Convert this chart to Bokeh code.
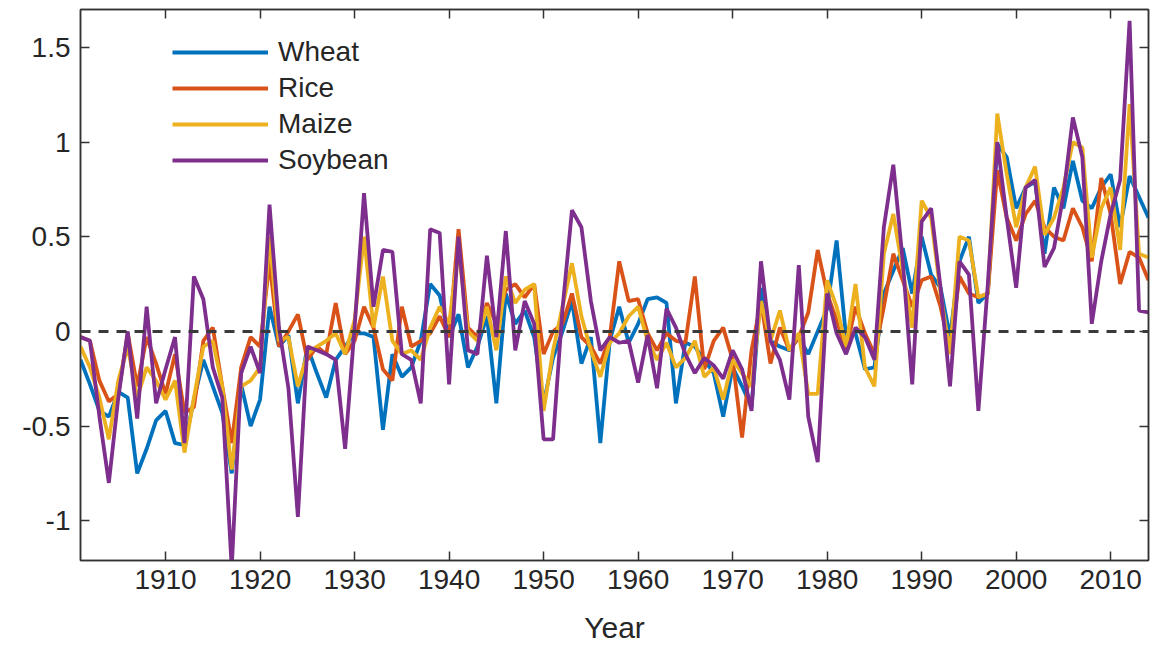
from bokeh.plotting import figure
from bokeh.models import Range1d, FixedTicker, LinearAxis, Span, Legend, LegendItem
from bokeh.embed import file_html
from bokeh.resources import INLINE

years = list(range(1901, 2015))

wheat = [
    -0.15, -0.28, -0.42, -0.45, -0.32, -0.35, -0.75, -0.62, -0.47, -0.42,
    -0.59, -0.60, -0.36, -0.15, -0.29, -0.43, -0.75, -0.28, -0.50, -0.36,
    0.13, -0.08, -0.02, -0.38, -0.08, -0.22, -0.35, -0.15, -0.08, -0.01,
    -0.01, -0.03, -0.52, -0.12, -0.24, -0.19, -0.05, 0.25, 0.19, -0.03,
    0.09, -0.19, -0.08, 0.08, -0.38, 0.20, 0.04, 0.11, -0.03, -0.38,
    -0.14, 0.00, 0.16, -0.17, -0.03, -0.59, -0.05, 0.13, -0.06, 0.04,
    0.17, 0.18, 0.15, -0.38, -0.06, -0.08, -0.15, -0.22, -0.45, -0.19,
    -0.29, -0.40, 0.23, -0.05, -0.08, -0.10, -0.03, -0.12, 0.00, 0.12,
    0.48, -0.03, -0.01, -0.20, -0.19, 0.20, 0.32, 0.44, 0.20, 0.50,
    0.30, 0.23, -0.03, 0.37, 0.50, 0.15, 0.20, 0.99, 0.92, 0.65,
    0.76, 0.79, 0.41, 0.76, 0.65, 0.90, 0.69, 0.65, 0.76, 0.83,
    0.55, 0.82, 0.71, 0.60,
]

rice = [
    -0.03, -0.05, -0.26, -0.37, -0.33, -0.01, -0.29, -0.03, -0.17, -0.33,
    -0.12, -0.43, -0.40, -0.05, 0.02, -0.29, -0.59, -0.19, -0.03, -0.08,
    0.37, -0.08, 0.00, 0.09, -0.15, -0.08, -0.12, 0.15, -0.12, -0.05,
    0.13, 0.02, -0.20, -0.26, 0.13, -0.08, -0.05, -0.01, 0.08, -0.03,
    0.54, 0.02, -0.03, 0.15, 0.04, 0.22, 0.25, 0.18, 0.25, -0.12,
    0.00, 0.04, 0.20, -0.03, -0.08, -0.17, -0.03, 0.37, 0.16, 0.17,
    -0.01, -0.10, -0.01, -0.05, -0.06, 0.29, -0.20, -0.05, 0.02, -0.15,
    -0.56, -0.10, 0.16, -0.17, 0.02, -0.10, -0.03, 0.10, 0.43, 0.20,
    0.06, -0.10, 0.13, -0.01, -0.12, 0.13, 0.41, 0.27, 0.13, 0.27,
    0.29, 0.13, -0.10, 0.29, 0.20, 0.18, 0.20, 0.85, 0.60, 0.48,
    0.62, 0.69, 0.55, 0.50, 0.48, 0.65, 0.55, 0.37, 0.81, 0.62,
    0.25, 0.42, 0.39, 0.27,
]

maize = [
    -0.08, -0.19, -0.35, -0.57, -0.26, -0.08, -0.35, -0.19, -0.26, -0.36,
    -0.26, -0.64, -0.35, -0.08, -0.05, -0.29, -0.73, -0.29, -0.26, -0.19,
    0.50, -0.05, -0.03, -0.29, -0.12, -0.08, -0.05, -0.01, -0.12, 0.06,
    0.50, 0.02, 0.29, -0.05, -0.12, -0.10, -0.15, 0.02, 0.13, 0.04,
    0.43, 0.00, -0.05, 0.13, -0.10, 0.29, 0.15, 0.22, 0.25, -0.42,
    -0.10, 0.13, 0.36, 0.08, -0.10, -0.24, -0.06, -0.01, 0.08, 0.13,
    -0.05, -0.15, -0.06, -0.19, -0.14, -0.05, -0.24, -0.19, -0.36, -0.15,
    -0.22, -0.29, 0.16, -0.05, 0.11, -0.10, -0.01, -0.33, -0.33, 0.27,
    0.13, -0.08, 0.25, -0.19, -0.29, 0.41, 0.62, 0.32, 0.02, 0.69,
    0.60, 0.20, -0.12, 0.50, 0.48, 0.18, 0.20, 1.15, 0.83, 0.55,
    0.76, 0.87, 0.51, 0.60, 0.76, 1.00, 0.97, 0.39, 0.65, 0.76,
    0.43, 1.20, 0.41, 0.39,
]

soybean = [
    -0.03, -0.05, -0.45, -0.80, -0.35, 0.00, -0.46, 0.13, -0.38, -0.20,
    -0.03, -0.59, 0.29, 0.17, -0.19, -0.35, -1.25, -0.22, -0.08, -0.22,
    0.67, 0.02, -0.30, -0.98, -0.08, -0.10, -0.12, -0.15, -0.62, 0.02,
    0.73, 0.13, 0.43, 0.42, -0.12, -0.15, -0.38, 0.54, 0.52, -0.28,
    0.50, -0.10, -0.12, 0.40, -0.03, 0.53, -0.10, 0.16, 0.04, -0.57,
    -0.57, 0.12, 0.64, 0.55, 0.16, -0.10, -0.03, -0.06, -0.05, -0.27,
    -0.02, -0.30, 0.12, 0.02, -0.12, -0.22, -0.14, -0.18, -0.25, -0.10,
    -0.20, -0.42, 0.37, -0.05, -0.15, -0.36, 0.35, -0.45, -0.69, 0.20,
    -0.01, -0.12, 0.02, -0.03, -0.15, 0.55, 0.88, 0.37, -0.28, 0.58,
    0.65, 0.23, -0.29, 0.37, 0.30, -0.42, 0.25, 1.00, 0.60, 0.23,
    0.76, 0.80, 0.34, 0.44, 0.72, 1.13, 0.92, 0.04, 0.37, 0.62,
    0.80, 1.64, 0.11, 0.10,
]

series_names = ["Wheat", "Rice", "Maize", "Soybean"]
series_colors = ["#0072BD", "#D95319", "#EDB120", "#7E2F8E"]

x_ticks = [1910, 1920, 1930, 1940, 1950, 1960, 1970, 1980, 1990, 2000, 2010]
y_ticks = [-1.0, -0.5, 0.0, 0.5, 1.0, 1.5]
y_tick_labels = ["-1", "-0.5", "0", "0.5", "1", "1.5"]

FONT = "Liberation Sans"
AXC = "#333333"

p = figure(width=1151, height=648, output_backend="svg", toolbar_location=None,
           x_range=Range1d(1901, 2014), y_range=Range1d(-1.21, 1.70),
           min_border_left=80, min_border_right=3, min_border_top=9,
           min_border_bottom=88)
p.background_fill_color = "white"
p.border_fill_color = "white"
p.outline_line_color = AXC
p.outline_line_width = 1.5
p.xgrid.visible = False
p.ygrid.visible = False

renderers = []
for name, vals, col in zip(series_names, [wheat, rice, maize, soybean], series_colors):
    r = p.line(years, vals, line_color=col, line_width=3.8)
    renderers.append(r)

p.add_layout(Span(location=0, dimension="width", line_color="#3a3a3a",
                  line_width=3, line_dash="10 8"))

def style_axis(ax, labels=True):
    ax.axis_line_color = AXC
    ax.axis_line_width = 1.5
    ax.major_tick_line_color = AXC
    ax.major_tick_line_width = 1.5
    ax.major_tick_in = 9
    ax.major_tick_out = 0
    ax.minor_tick_line_color = None
    if labels:
        ax.major_label_text_font = FONT
        ax.major_label_text_font_size = "28px"
        ax.major_label_text_color = "#262626"
        ax.major_label_standoff = 9
    else:
        ax.major_label_text_font_size = "1px"
        ax.major_label_standoff = 0

xa = p.xaxis[0]
xa.ticker = FixedTicker(ticks=x_ticks)
style_axis(xa)
xa.axis_label = "Year"
xa.axis_label_text_font = FONT
xa.axis_label_text_font_size = "30px"
xa.axis_label_text_font_style = "normal"
xa.axis_label_text_color = "#262626"
xa.axis_label_standoff = 19

ya = p.yaxis[0]
ya.ticker = FixedTicker(ticks=y_ticks)
ya.major_label_overrides = {t: s for t, s in zip(y_ticks, y_tick_labels)}
style_axis(ya)
ya.major_label_standoff = 10

top = LinearAxis(ticker=FixedTicker(ticks=x_ticks))
style_axis(top, labels=False)
top.major_label_overrides = {t: "" for t in x_ticks}
p.add_layout(top, "above")
right = LinearAxis(ticker=FixedTicker(ticks=y_ticks))
style_axis(right, labels=False)
right.major_label_overrides = {t: "" for t in y_ticks}
p.add_layout(right, "right")

legend = Legend(items=[LegendItem(label=n, renderers=[r]) for n, r in zip(series_names, renderers)],
                location=(92, 382))
legend.glyph_width = 96
legend.glyph_height = 36
legend.label_height = 36
legend.spacing = 0
legend.padding = 0
legend.margin = 0
legend.border_line_alpha = 0
legend.background_fill_alpha = 0
legend.label_standoff = 10
legend.label_text_font = FONT
legend.label_text_font_size = "28px"
legend.label_text_color = "#262626"
p.add_layout(legend, "center")

open("out.html", "w").write(file_html(p, INLINE))
